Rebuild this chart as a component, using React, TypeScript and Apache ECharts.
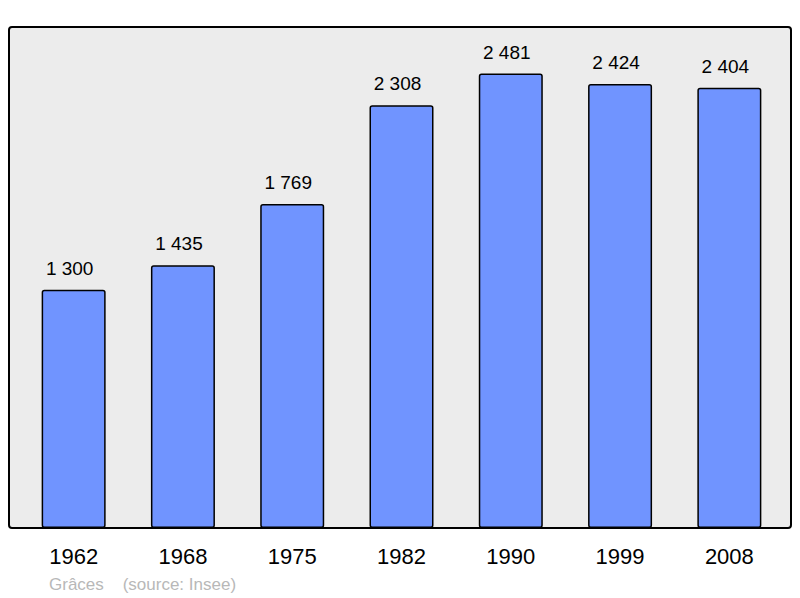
import React, { useEffect, useRef } from "react";
import * as echarts from "echarts";

const years = ["1962", "1968", "1975", "1982", "1990", "1999", "2008"];
const population = [1300, 1435, 1769, 2308, 2481, 2424, 2404];
const footerName = "Grâces";
const footerSource = "(source: Insee)";

const fmt = (v: number) => {
  const s = String(v);
  return s.length > 3 ? s.slice(0, s.length - 3) + " " + s.slice(-3) : s;
};

export default function App() {
  const ref = useRef<HTMLDivElement>(null);
  useEffect(() => {
    const chart = echarts.init(ref.current!, null, { renderer: "svg" });
    chart.setOption({
      animation: false,
      textStyle: { fontFamily: "Liberation Sans, Arial, sans-serif" },
      graphic: [
        {
          type: "rect",
          shape: { x: 9, y: 27, width: 782, height: 501, r: 3 },
          style: { fill: "#ececec", stroke: "#000", lineWidth: 2 },
          z: -10,
          silent: true,
        },
        {
          type: "text",
          x: 49,
          y: 584,
          style: {
            text: footerName + "    " + footerSource,
            fill: "#b8b8b8",
            fontSize: 17,
            fontFamily: "Liberation Sans, Arial, sans-serif",
            verticalAlign: "middle",
          },
        },
      ],
      grid: { left: 19, top: 27, width: 765, height: 501, containLabel: false },
      xAxis: {
        type: "category",
        data: years,
        axisLine: { show: false },
        axisTick: { show: false },
        axisLabel: { color: "#000", fontSize: 22, margin: 17 },
      },
      yAxis: {
        type: "value",
        min: 0,
        max: 2735,
        show: false,
        splitLine: { show: false },
      },
      series: [
        {
          type: "bar",
          data: population,
          barWidth: 64,
          itemStyle: {
            color: "#7094ff",
            borderColor: "#000",
            borderWidth: 1.5,
            borderRadius: 2,
          },
          label: {
            show: true,
            position: "top",
            distance: 12,
            offset: [-4, 0],
            color: "#000",
            fontSize: 19,
            formatter: (p: any) => fmt(p.value),
          },
        },
      ],
    });
    return () => chart.dispose();
  }, []);
  return <div ref={ref} style={{ width: 800, height: 598, position: "absolute", left: 0, top: 0 }} />;
}
